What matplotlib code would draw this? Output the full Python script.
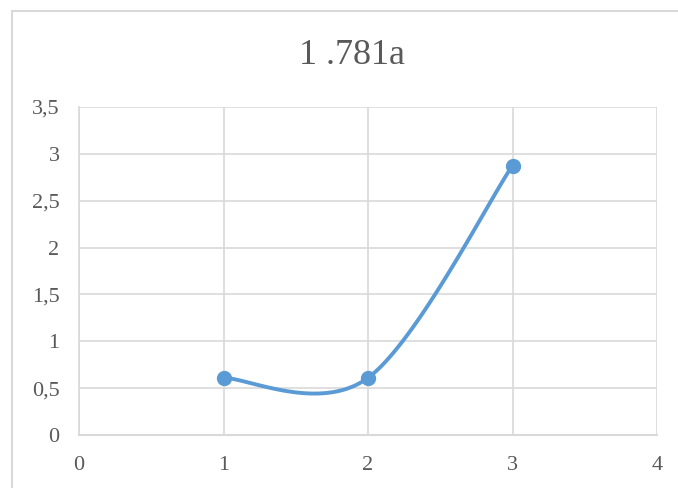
import matplotlib.pyplot as plt
from matplotlib.patches import Rectangle
import numpy as np

# data
x_vals = [1, 2, 3]
y_vals = [0.61, 0.61, 2.875]
x_ticks = [0, 1, 2, 3, 4]
y_ticks = [0, 0.5, 1, 1.5, 2, 2.5, 3, 3.5]
y_tick_labels = ['0', '0,5', '1', '1,5', '2', '2,5', '3', '3,5']
title = '1 .781a'

line_color = '#5b9bd5'
grid_color = '#d9d9d9'
text_color = '#595959'


def smooth_curve(xs, ys, n=60):
    # Catmull-Rom style cubic Bezier through the points (spreadsheet "smoothed line")
    px = np.array([xs[0]] + list(xs) + [xs[-1]], dtype=float)
    py = np.array([ys[0]] + list(ys) + [ys[-1]], dtype=float)
    out_x, out_y = [], []
    t = np.linspace(0, 1, n)
    for i in range(1, len(px) - 2):
        p0 = np.array([px[i], py[i]])
        p3 = np.array([px[i + 1], py[i + 1]])
        c1 = p0 + (np.array([px[i + 1], py[i + 1]]) - np.array([px[i - 1], py[i - 1]])) / 6
        c2 = p3 - (np.array([px[i + 2], py[i + 2]]) - np.array([px[i], py[i]])) / 6
        b = (np.outer((1 - t) ** 3, p0) + np.outer(3 * t * (1 - t) ** 2, c1)
             + np.outer(3 * t ** 2 * (1 - t), c2) + np.outer(t ** 3, p3))
        out_x.extend(b[:, 0])
        out_y.extend(b[:, 1])
    return out_x, out_y


plt.rcParams['font.family'] = ['Liberation Serif', 'DejaVu Serif']

fig = plt.figure(figsize=(6.78, 4.88), dpi=100)
ax = fig.add_axes([79 / 678, 53 / 488, 578 / 678, 328 / 488])

# chart frame
fig.patches.append(Rectangle((12 / 678, -0.1), 1.2, (488 - 11) / 488 + 0.1,
                             transform=fig.transFigure, fill=False,
                             edgecolor=grid_color, linewidth=1.5))

sx, sy = smooth_curve(x_vals, y_vals)
ax.plot(sx, sy, color=line_color, linewidth=2.8, solid_capstyle='round', zorder=3)
ax.plot(x_vals, y_vals, 'o', color=line_color, markersize=10, zorder=4)

ax.set_xlim(0, 4)
ax.set_ylim(0, 3.5)
ax.set_xticks(x_ticks)
ax.set_yticks(y_ticks)
ax.set_yticklabels(y_tick_labels)
ax.tick_params(length=0, labelsize=16, labelcolor=text_color)
ax.tick_params(axis='y', pad=14)
ax.tick_params(axis='x', pad=15)

ax.grid(True, color=grid_color, linewidth=1.2)
ax.set_axisbelow(True)
for side in ['top', 'right']:
    ax.spines[side].set_visible(False)
ax.spines['left'].set_color(grid_color)
ax.spines['bottom'].set_color(grid_color)
ax.spines['left'].set_linewidth(1.2)
ax.spines['bottom'].set_linewidth(1.5)

fig.text(352 / 678, 1 - 55 / 488, title, ha='center', va='center',
         fontsize=26, color=text_color)

fig.savefig('out.png', dpi=100)
